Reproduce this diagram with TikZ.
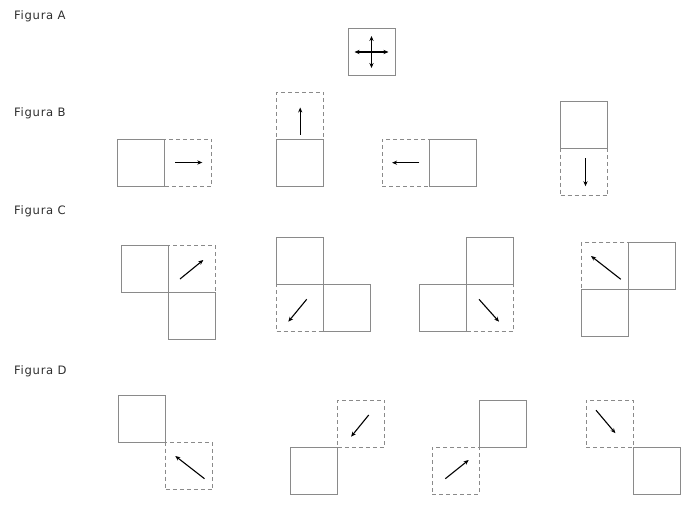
\documentclass[tikz,border=0pt]{standalone}
\usepackage{fontspec}
\setmainfont{DejaVu Sans}
\newfontfamily\lblfont[LetterSpace=6]{DejaVu Sans}
\usetikzlibrary{arrows.meta}
\definecolor{boxgray}{HTML}{8A8A8A}
\definecolor{txtgray}{HTML}{2E2E2E}
\begin{document}
\begin{tikzpicture}[x=1pt,y=-1pt,
  cell/.style={draw=boxgray,line width=0.8pt,minimum size=47pt,inner sep=0pt,outer sep=0pt},
  ghost/.style={cell,dashed,dash pattern=on 4pt off 3pt},
  arr/.style={-{Stealth[length=5pt,width=4.2pt]},line width=1.1pt,black},
  darr/.style={{Stealth[length=5pt,width=4.2pt]}-{Stealth[length=5pt,width=4.2pt]},line width=1.1pt,black},
  lbl/.style={anchor=base west,inner sep=0pt,text=txtgray,font=\lblfont\fontsize{11.6}{14}\selectfont}]
\useasboundingbox (0,0) rectangle (700,519);
\fill[white] (0,0) rectangle (700,519);

% labels
\node[lbl] (la) at (14,19.3) {Figura A};
\node[lbl] (lb) at (14,116) {Figura B};
\node[lbl] (lc) at (14,214.3) {Figura C};
\node[lbl] (ld) at (14,374.3) {Figura D};

% Figura A
\node[cell] (a) at (371.5,52) {};
\draw[darr] ([xshift=-17pt]a.center) -- ([xshift=17pt]a.center);
\draw[darr] ([yshift=16pt]a.center) -- ([yshift=-16pt]a.center);

% Figura B
\node[ghost] (b1d) at (188.3,162.5) {};
\node[cell] (b1s) at (141.3,162.5) {};
\draw[arr] ([xshift=-13pt]b1d.center) -- ([xshift=14pt]b1d.center);

\node[ghost] (b2d) at (300.2,115.5) {};
\node[cell] (b2s) at (300.2,162.5) {};
\draw[arr] ([yshift=-19pt]b2d.center) -- ([yshift=8pt]b2d.center);

\node[ghost] (b3d) at (405.7,162.7) {};
\node[cell] (b3s) at (452.7,162.7) {};
\draw[arr] ([xshift=13.6pt]b3d.center) -- ([xshift=-13.6pt]b3d.center);

\node[ghost] (b4d) at (584,172.2) {};
\node[cell] (b4s) at (584,125.2) {};
\draw[arr] ([shift={(1.5,-14)}]b4d.center) -- ([shift={(1.5,14)}]b4d.center);

% Figura C
\node[ghost] (c1d) at (192,269.3) {};
\node[cell] (c1a) at (145,269.3) {};
\node[cell] (c1b) at (192,316.3) {};
\draw[arr] ([shift={(-12,9.7)}]c1d.center) -- ([shift={(11.3,-9.3)}]c1d.center);

\node[ghost] (c2d) at (300,307.8) {};
\node[cell] (c2a) at (300,260.8) {};
\node[cell] (c2b) at (347,307.8) {};
\draw[arr] ([shift={(6.7,-8.5)}]c2d.center) -- ([shift={(-11.7,13.9)}]c2d.center);

\node[ghost] (c3d) at (490.2,307.8) {};
\node[cell] (c3a) at (490.2,260.8) {};
\node[cell] (c3b) at (443.2,307.8) {};
\draw[arr] ([shift={(-11.2,-8.5)}]c3d.center) -- ([shift={(8.8,13.9)}]c3d.center);

\node[ghost] (c4d) at (604.8,266) {};
\node[cell] (c4a) at (651.8,266) {};
\node[cell] (c4b) at (604.8,313) {};
\draw[arr] ([shift={(16,13.3)}]c4d.center) -- ([shift={(-13.8,-10)}]c4d.center);

% Figura D
\node[ghost] (d1d) at (189.3,466) {};
\node[cell] (d1s) at (142.3,419) {};
\draw[arr] ([shift={(15.2,12.7)}]d1d.center) -- ([shift={(-14,-10)}]d1d.center);

\node[ghost] (d2d) at (361.3,423.7) {};
\node[cell] (d2s) at (314.3,470.7) {};
\draw[arr] ([shift={(7.4,-8.7)}]d2d.center) -- ([shift={(-10.2,13)}]d2d.center);

\node[ghost] (d3d) at (455.7,470.7) {};
\node[cell] (d3s) at (502.7,423.7) {};
\draw[arr] ([shift={(-10.4,8)}]d3d.center) -- ([shift={(13,-10.7)}]d3d.center);

\node[ghost] (d4d) at (609.5,423.7) {};
\node[cell] (d4s) at (656.5,470.7) {};
\draw[arr] ([shift={(-13.5,-13.5)}]d4d.center) -- ([shift={(5.9,9.5)}]d4d.center);
\end{tikzpicture}
\end{document}
